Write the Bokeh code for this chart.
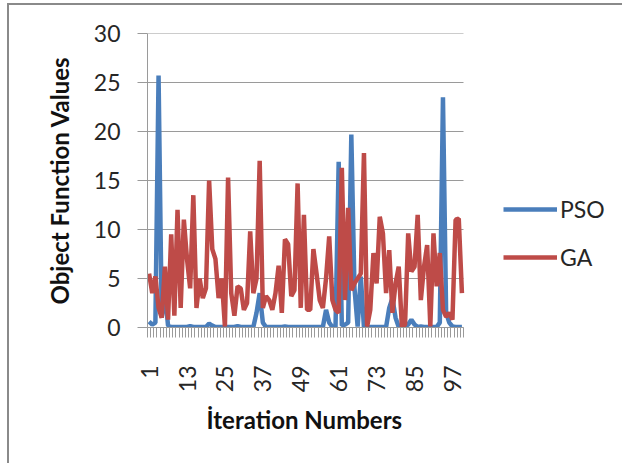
import math
from bokeh.plotting import figure
from bokeh.models import FixedTicker, Legend, LegendItem, Range1d, ColumnDataSource, Title
from bokeh.embed import file_html
from bokeh.resources import INLINE

iterations = list(range(1, 101))

pso = [0.6, 0.3, 0.5, 25.7, 1.0, 3.5, 0.2, 0.05, 0.05, 0.05,
       0.05, 0.05, 0.05, 0.15, 0.05, 0.05, 0.05, 0.05, 0.05, 0.4,
       0.2, 0.05, 0.05, 0.05, 0.05, 0.05, 0.05, 0.05, 0.15, 0.05,
       0.05, 0.05, 0.05, 0.05, 1.5, 3.5, 0.5, 0.05, 0.05, 0.05,
       0.05, 0.05, 0.05, 0.1, 0.05, 0.05, 0.05, 0.05, 0.05, 0.05,
       0.05, 0.05, 0.05, 0.05, 0.05, 0.05, 1.8, 0.5, 0.05, 0.05,
       16.9, 0.2, 0.3, 0.5, 19.7, 4.0, 0.1, 5.2, 0.05, 0.05,
       0.05, 0.05, 0.05, 0.05, 0.05, 0.05, 2.0, 3.0, 1.0, 0.05,
       0.05, 0.05, 0.3, 0.8, 0.3, 0.05, 0.1, 0.05, 0.05, 0.05,
       0.05, 0.05, 0.5, 23.5, 1.5, 0.5, 0.1, 0.05, 0.05, 0.05]

ga = [5.5, 3.5, 5.2, 2.0, 1.0, 6.2, 0.8, 9.5, 1.2, 12.0,
      2.0, 11.0, 7.0, 4.0, 13.5, 2.0, 5.0, 3.0, 4.0, 15.0,
      8.0, 7.0, 3.0, 5.0, 0.1, 15.3, 3.5, 1.2, 4.2, 4.0,
      1.8, 2.5, 9.8, 3.5, 5.0, 17.0, 2.0, 3.2, 2.8, 1.8,
      3.5, 6.3, 1.5, 9.0, 8.5, 3.2, 3.8, 14.7, 2.0, 11.5,
      1.8, 1.8, 8.0, 5.5, 2.8, 2.0, 5.0, 9.3, 2.8, 1.8,
      1.5, 16.3, 2.8, 12.2, 3.8, 4.5, 5.0, 5.5, 17.8, 0.1,
      1.8, 7.6, 4.5, 11.3, 9.6, 3.5, 7.9, 1.5, 4.5, 6.2,
      0.1, 0.3, 9.6, 5.7, 6.2, 11.5, 2.8, 6.2, 8.4, 0.1,
      9.6, 4.2, 7.6, 1.8, 1.1, 1.5, 0.8, 11.0, 11.1, 3.5]

x_tick_values = [1, 13, 25, 37, 49, 61, 73, 85, 97]
y_tick_values = [0, 5, 10, 15, 20, 25, 30]

series_names = ["PSO", "GA"]
series_colors = ["#4a7ebb", "#be4b48"]

FONT = "Lato"
GRID = "#9a9a9a"
BORDER = "#8a8a8a"
TXT = "#262626"

W, H = 622, 463
LEFT, RIGHT, TOP, BOTTOM = 147, 4, 33, 136
PLOT_PX = 316  # width of the data region in pixels

x_lo = 0.5
x_hi = len(iterations) + 0.5
frame_px = W - LEFT - RIGHT
x_view_end = x_lo + (x_hi - x_lo) * frame_px / PLOT_PX   # leaves room for the legend

p = figure(width=W, height=H, output_backend="svg", toolbar_location=None,
           x_range=Range1d(x_lo, x_view_end), y_range=Range1d(0, 30),
           min_border_left=LEFT, min_border_right=RIGHT,
           min_border_top=TOP, min_border_bottom=BOTTOM)
p.styles = {
    "background": (
        f"linear-gradient({BORDER},{BORDER}) 7px 3px / 2px 100% no-repeat, "
        f"linear-gradient({BORDER},{BORDER}) 7px 3px / 100% 2px no-repeat, white"
    )
}
p.outline_line_color = None
p.background_fill_color = "white"
p.border_fill_color = None

# horizontal gridlines restricted to the data region
p.xgrid.grid_line_color = None
p.ygrid.grid_line_color = None
p.segment(x0=[x_lo] * len(y_tick_values), x1=[x_hi] * len(y_tick_values),
          y0=y_tick_values, y1=y_tick_values, line_color=GRID, line_width=1)

src = ColumnDataSource(dict(x=iterations, pso=pso, ga=ga))
r1 = p.line("x", "pso", source=src, line_color=series_colors[0], line_width=4.5)
r2 = p.line("x", "ga", source=src, line_color=series_colors[1], line_width=4.5)

# x axis
p.xaxis.bounds = (x_lo, x_hi)
p.xaxis.ticker = FixedTicker(ticks=x_tick_values,
                             minor_ticks=[x_lo + i for i in range(len(iterations) + 1)])
p.xaxis.major_tick_in = 0
p.xaxis.major_tick_out = 0
p.xaxis.minor_tick_in = 0
p.xaxis.minor_tick_out = 10
p.xaxis.minor_tick_line_color = GRID
p.xaxis.axis_line_color = GRID
p.xaxis.major_label_orientation = math.pi / 2
p.xaxis.major_label_standoff = 28
p.xaxis.major_label_text_font = FONT
p.xaxis.major_label_text_font_size = "23px"
p.xaxis.major_label_text_color = TXT

xtitle = Title(text="İteration Numbers", align="left", offset=59, standoff=14,
               text_font=FONT, text_font_size="24px", text_font_style="bold",
               text_color="#111111")
p.add_layout(xtitle, "below")

# y axis
p.yaxis.ticker = FixedTicker(ticks=y_tick_values)
p.yaxis.major_tick_in = 0
p.yaxis.major_tick_out = 10
p.yaxis.major_tick_line_color = GRID
p.yaxis.minor_tick_line_color = None
p.yaxis.axis_line_color = GRID
p.yaxis.major_label_standoff = 17
p.yaxis.major_label_text_font = FONT
p.yaxis.major_label_text_font_size = "23px"
p.yaxis.major_label_text_color = TXT
p.yaxis.axis_label = "Object Function Values"
p.yaxis.axis_label_text_font = FONT
p.yaxis.axis_label_text_font_style = "bold"
p.yaxis.axis_label_text_font_size = "24px"
p.yaxis.axis_label_text_color = "#111111"
p.yaxis.axis_label_standoff = 17

legend = Legend(items=[LegendItem(label=series_names[0], renderers=[r1]),
                       LegendItem(label=series_names[1], renderers=[r2])],
                location=(356, 56), orientation="vertical")
legend.padding = 0
legend.margin = 0
legend.spacing = 20
legend.glyph_width = 54
legend.glyph_height = 20
legend.label_height = 20
legend.label_standoff = 3
legend.label_text_font = FONT
legend.label_text_font_size = "23px"
legend.label_text_color = TXT
legend.border_line_color = None
legend.background_fill_alpha = 0
p.add_layout(legend, "center")

open("out.html", "w").write(file_html(p, INLINE))
